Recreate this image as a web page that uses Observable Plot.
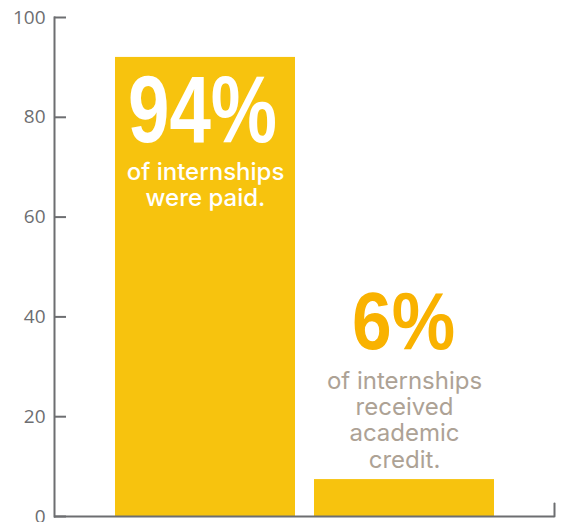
<!DOCTYPE html>
<html><head><meta charset="utf-8">
<script src="https://cdn.jsdelivr.net/npm/d3@7"></script>
<script src="https://cdn.jsdelivr.net/npm/@observablehq/plot@0.6"></script>
<style>html,body{margin:0;padding:0;background:#fff}</style>
</head><body><div id="chart"></div>
<script>
const categories = ["Paid", "Academic credit"];
const values = [92, 7.4];
const bigLabels = ["94%", "6%"];
const subLabels = ["of internships\nwere paid.", "of internships\nreceived\nacademic\ncredit."];
const yTicks = [0, 20, 40, 60, 80, 100];

const data = categories.map((c, i) => ({category: c, value: values[i], big: bigLabels[i], sub: subLabels[i]}));
const axisColor = "#6d6e71";
const barColor = "#f7c30e";
const bigFont = "'Liberation Sans', Arial, sans-serif";
const textFont = "Inter, 'Open Sans', sans-serif";

const chart = Plot.plot({
  width: 564, height: 522,
  marginTop: 17, marginBottom: 6, marginLeft: 54, marginRight: 10,
  style: {background: "#fff", fontFamily: "'Open Sans', sans-serif", color: axisColor},
  x: {domain: categories, paddingInner: 0.0955, paddingOuter: 0.302, axis: null},
  y: {domain: [0, 100]},
  marks: [
    Plot.barY(data, {x: "category", y: "value", fill: barColor}),
    Plot.frame({anchor: "left", stroke: axisColor, strokeWidth: 2}),
    Plot.ruleY([0], {stroke: axisColor, strokeWidth: 2}),
    Plot.vector([0], {frameAnchor: "bottom-right", length: 13, rotate: 0, anchor: "start", stroke: axisColor, strokeWidth: 2,
      shape: {draw(ctx, l) { ctx.moveTo(0, 0); ctx.lineTo(0, -l); }}}),
    Plot.axisY({ticks: yTicks, tickSize: -12, tickPadding: 21, color: axisColor, strokeWidth: 2, fontSize: 19, tickFormat: d => d, label: null}),
    Plot.text([data[0]], {x: "category", y: "value", text: "big", fill: "#ffffff", fontSize: 94, fontWeight: "bold", fontFamily: bigFont, lineAnchor: "top", dy: 18, dx: -3, ariaLabel: () => "big-paid"}),
    Plot.text([data[0]], {x: "category", y: "value", text: "sub", fill: "#ffffff", fontSize: 24, fontWeight: 500, fontFamily: textFont, lineAnchor: "top", lineHeight: 1.12, dy: 103}),
    Plot.text([data[1]], {x: "category", y: "value", text: "big", fill: "#f9b200", fontSize: 81, fontWeight: "bold", fontFamily: bigFont, lineAnchor: "top", dy: -188, dx: -1, ariaLabel: () => "big-credit"}),
    Plot.text([data[1]], {x: "category", y: "value", text: "sub", fill: "#ada295", fontSize: 24, fontWeight: 400, fontFamily: textFont, lineAnchor: "top", lineHeight: 1.09, dy: -109})
  ]
});
// condense the big numbers (narrow display face)
function condense(label, len) {
  d3.select(chart).selectAll("text").filter(function() {
    return this.getAttribute("aria-label") === label || (this.parentNode && this.parentNode.getAttribute && this.parentNode.getAttribute("aria-label") === label);
  }).attr("textLength", len).attr("lengthAdjust", "spacingAndGlyphs");
}
condense("big-paid", 149);
condense("big-credit", 103);
document.getElementById("chart").append(chart);
</script>
</body></html>
